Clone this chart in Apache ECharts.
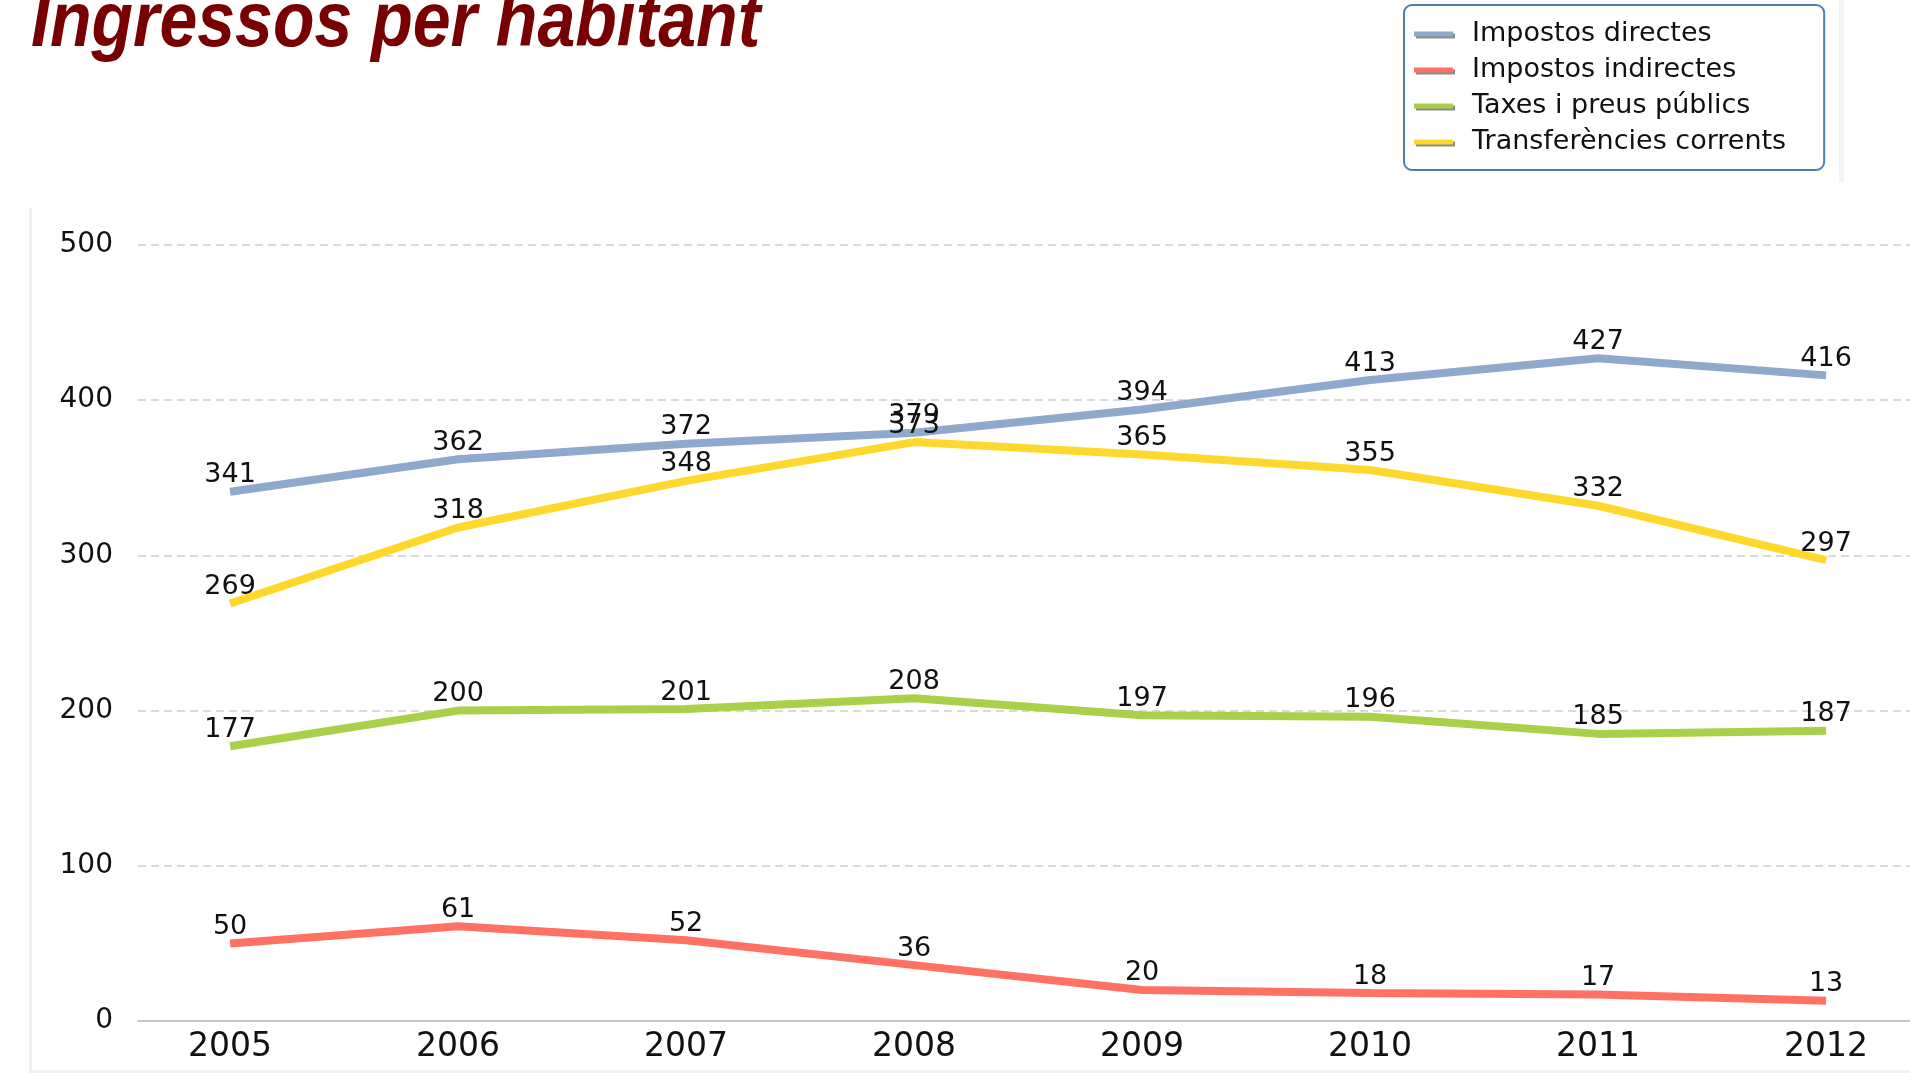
<!DOCTYPE html>
<html>
<head>
<meta charset="utf-8">
<script src="https://cdn.jsdelivr.net/npm/echarts@6/dist/echarts.min.js"></script>
<style>
html,body{margin:0;padding:0;background:#fff;}
#chart{width:1910px;height:1073px;}
</style>
</head>
<body>
<div id="chart"></div>
<script>
const years = [2005, 2006, 2007, 2008, 2009, 2010, 2011, 2012];
const impostosDirectes = [341, 362, 372, 379, 394, 413, 427, 416];
const impostosIndirectes = [50, 61, 52, 36, 20, 18, 17, 13];
const taxesPreus = [177, 200, 201, 208, 197, 196, 185, 187];
const transferencies = [269, 318, 348, 373, 365, 355, 332, 297];
const yTicks = [0, 100, 200, 300, 400, 500];
const seriesNames = ['Impostos directes', 'Impostos indirectes', 'Taxes i preus públics', 'Transferències corrents'];
const colors = ['#8DA9CB', '#FF7163', '#AAD049', '#FFD82E'];

const chart = echarts.init(document.getElementById('chart'));
const pair = arr => years.map((y, i) => [y, arr[i]]);
const mk = (name, arr, color, z) => ({
  name: name,
  type: 'line',
  data: pair(arr),
  z: z,
  symbol: 'circle',
  symbolSize: 0,
  showSymbol: true,
  lineStyle: { color: color, width: 8, cap: 'butt' },
  itemStyle: { color: color },
  label: {
    show: true,
    position: 'top',
    distance: 3,
    color: '#111',
    fontFamily: 'DejaVu Sans',
    fontSize: 27
  },
  emphasis: { disabled: true },
  animation: false
});

chart.setOption({
  animation: false,
  backgroundColor: '#fff',
  graphic: [
    { type: 'rect', shape: { x: 29, y: 208, width: 3, height: 870 }, style: { fill: '#F0F0F0' }, silent: true },
    { type: 'rect', shape: { x: 29, y: 1070, width: 1890, height: 3 }, style: { fill: '#F3F3F3' }, silent: true },
    { type: 'rect', shape: { x: 1839, y: 0, width: 5, height: 182 }, style: { fill: '#F3F3F3' }, silent: true },
    {
      type: 'text', x: 31, y: -15, scaleY: 1.15, silent: true,
      style: {
        text: 'Ingressos per habitant',
        font: 'italic bold 68px "Liberation Sans", Arial, sans-serif',
        fill: '#780000',
        shadowColor: 'rgba(120,120,120,0.55)',
        shadowOffsetX: 3,
        shadowOffsetY: 3,
        shadowBlur: 1
      }
    }
  ],
  legend: {
    orient: 'vertical',
    left: 1404,
    top: 5,
    width: 427,
    padding: [11, 38, 10, 10],
    itemGap: 0,
    itemWidth: 39,
    itemHeight: 5,
    icon: 'rect',
    backgroundColor: '#fff',
    borderColor: '#4E7DB4',
    borderWidth: 2,
    borderRadius: 8,
    data: seriesNames,
    itemStyle: { shadowColor: 'rgba(110,110,110,0.8)', shadowOffsetX: 2, shadowOffsetY: 2, shadowBlur: 0 },
    textStyle: {
      fontFamily: 'DejaVu Sans',
      fontSize: 27,
      color: '#111',
      lineHeight: 36,
      padding: [0, 0, 0, 14]
    }
  },
  grid: { left: 138, right: 0, top: 245, bottom: 52, containLabel: false },
  xAxis: {
    type: 'value',
    min: 2004.596,
    max: 2012.368,
    axisLine: { show: true, lineStyle: { color: '#C8C8C8', width: 2 } },
    axisTick: { show: false },
    splitLine: { show: false },
    axisLabel: {
      customValues: years,
      margin: 10,
      color: '#111',
      fontFamily: 'DejaVu Sans',
      fontSize: 33,
      formatter: v => String(v)
    }
  },
  yAxis: {
    type: 'value',
    min: 0,
    max: 500,
    interval: 100,
    axisLine: { show: false },
    axisTick: { show: false },
    splitLine: { show: true, lineStyle: { color: '#DADADA', width: 2, type: [8, 5] } },
    axisLabel: {
      customValues: yTicks,
      margin: 25,
      color: '#111',
      fontFamily: 'DejaVu Sans',
      fontSize: 28
    }
  },
  series: [
    mk(seriesNames[0], impostosDirectes, colors[0], 4),
    mk(seriesNames[1], impostosIndirectes, colors[1], 3),
    mk(seriesNames[2], taxesPreus, colors[2], 2),
    mk(seriesNames[3], transferencies, colors[3], 5)
  ]
});
</script>
</body>
</html>
